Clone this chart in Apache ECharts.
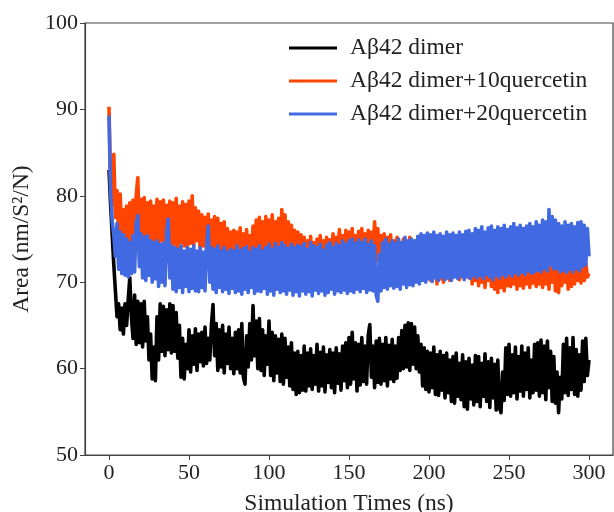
<!DOCTYPE html>
<html>
<head>
<meta charset="utf-8">
<script src="https://cdn.jsdelivr.net/npm/echarts@6/dist/echarts.min.js"></script>
<style>
  html, body { margin: 0; padding: 0; background: #fff; }
  #chart { width: 614px; height: 512px; }
</style>
</head>
<body>
<div id="chart"></div>
<script>
// series names
var names = ['A\u03b242 dimer', 'A\u03b242 dimer+10quercetin', 'A\u03b242 dimer+20quercetin'];
var xTicks = [0, 50, 100, 150, 200, 250, 300];
var yTicks = [50, 60, 70, 80, 90, 100];

// area per residue, one value per ns (t = 0..300)
var dimer = [
  83, 79, 75.5, 72, 69, 66, 67.5, 64.5, 67, 64,
  67.5, 65, 68, 70.5, 66, 63.5, 68.5, 62.8, 67.8, 63,
  67.5, 62.5, 67.8, 63.2, 66, 61, 64, 58.8, 62.5, 58.6,
  66, 61, 67.5, 62, 67.2, 61.5, 66.8, 62.2, 67.5, 61.8,
  67.3, 62, 66.5, 61.2, 65, 59, 63.5, 58.8, 62.8, 60,
  64.5, 59.6, 63.8, 60.5, 64.6, 59.8, 64, 60.8, 64.2, 60.3,
  64.8, 60.6, 63.5, 61, 65, 67.4, 61.5, 65.2, 59.8, 64.5,
  60.2, 65, 59.5, 64, 60.6, 64.8, 60, 63.5, 59.4, 64.2,
  60, 64.5, 59.5, 65.2, 59, 58.2, 63.8, 60.2, 65.2, 61,
  67.3, 61.5, 65.5, 60, 65.8, 59.8, 64.5, 59.2, 63.8, 60.5,
  65.5, 59.2, 64.2, 58.6, 63.8, 59.5, 63.4, 58.5, 64, 58.2,
  63.5, 59, 62.5, 58, 63, 57.6, 61.8, 57, 62, 57.2,
  61.5, 57.5, 62.6, 57.4, 61.8, 58, 62.3, 57.6, 61.5, 58.2,
  62.8, 57.4, 61.9, 58, 62.5, 57.3, 61.6, 58.4, 62.2, 57.8,
  61.8, 57.2, 62.4, 58.3, 61.7, 57.5, 62.6, 58.6, 63, 57.8,
  63.6, 58.2, 64.2, 58.8, 63, 57.4, 62.8, 58.1, 63.6, 58.5,
  62.6, 58.2, 63.8, 65.1, 59, 62.6, 57.8, 63.2, 58.4, 63.5,
  58.2, 62.8, 58.6, 63.6, 58, 62.7, 58.8, 63.4, 58.5, 62.6,
  58.9, 63.6, 59.8, 64.4, 60, 65, 60.2, 65.3, 59.8, 65.2,
  60.5, 64.8, 60, 63.8, 59.6, 62.8, 58, 62.4, 57.6, 62,
  57.3, 61.8, 57.8, 62.5, 57, 61.6, 56.9, 62, 57.5, 61.5,
  56.6, 61.8, 57.2, 61, 56.2, 61.4, 56, 61.8, 56.8, 60.6,
  56.4, 61.6, 55.6, 60.8, 55.3, 61.2, 56.5, 60.4, 55.8, 61.5,
  56.2, 61.4, 55.6, 60.6, 56.8, 61.7, 56.2, 60.8, 55.5, 61.2,
  56.6, 60.5, 55.2, 61, 55.5, 54.9, 59.6, 56.3, 62.4, 57,
  62.8, 56.8, 61.6, 57.2, 62.5, 56.5, 61.4, 57.4, 62.6, 56.8,
  61.8, 57.6, 62.4, 56.6, 61, 57.2, 62.8, 57.5, 63, 56.8,
  63.3, 57.2, 62.6, 56.4, 63.2, 57.8, 62, 56.2, 61.4, 56,
  59.6, 54.9, 59, 56.5, 62.8, 57.2, 63.5, 56.9, 62.4, 57.6,
  63.6, 57, 62.2, 56.8, 61.6, 57.5, 63.2, 58.5, 63.5, 59.2,
  61
];

var dimerQ10 = [
  90.3, 81, 79, 84.8, 77.5, 80.6, 75.8, 80.2, 75.2, 78.4,
  74.2, 78.8, 73.8, 79.2, 74.5, 79.5, 75, 80, 82.1, 75.5,
  79.6, 74.2, 79.8, 75, 79.2, 73.8, 79.4, 74.6, 78.8, 74,
  79.6, 73.8, 79.3, 74.8, 79.5, 73.6, 78.9, 74.2, 79.4, 73.8,
  79.2, 74.4, 79.7, 73.9, 78.8, 74.6, 79.3, 74.2, 79, 74,
  79.4, 74.5, 80, 74.3, 78.6, 74.8, 78.2, 73.6, 77.8, 74.2,
  77.5, 73.4, 77.9, 74, 77.2, 73.5, 77.6, 73.2, 77.4, 73.6,
  76.8, 73.2, 77, 73.5, 76.2, 72.8, 75.8, 72.6, 76, 72.4,
  75.8, 73, 76.3, 72.5, 75.6, 72.8, 76.1, 72.3, 75.4, 72.6,
  76.5, 72.5, 77.2, 73, 77.5, 72.6, 77, 73.2, 77.6, 72.8,
  77.2, 73.4, 77.8, 72.7, 77, 73.6, 77.4, 73, 78.4, 73.5,
  77.8, 73.2, 77, 72.8, 76.6, 73.4, 76, 72.5, 75.8, 73,
  75.5, 72.4, 75.2, 73, 74.8, 72.6, 75.3, 72.4, 74.6, 72.8,
  75, 72.3, 75.4, 72.7, 74.8, 72.4, 75.2, 72.8, 74.9, 72.4,
  75.6, 72.6, 75.2, 73, 76.1, 72.5, 75.4, 72.2, 76, 72.6,
  75.8, 71.9, 76.2, 72.4, 75.4, 72.2, 75.9, 72.6, 76.2, 72,
  75.6, 72.3, 76, 72.6, 75.8, 73, 77, 72.5, 76.2, 72.4,
  75.4, 72.2, 75.6, 71.9, 75.2, 72.4, 75.5, 72, 74.8, 72.3,
  75.2, 71.8, 74.6, 72.2, 75, 71.6, 74.4, 72, 75.2, 71.7,
  74.5, 71.5, 74.8, 71, 74.2, 70.6, 73.8, 70.2, 74.5, 70.5,
  73.8, 70.2, 74.4, 70.6, 73.6, 69.8, 74.2, 70.4, 73.8, 70,
  74, 70.5, 74.6, 70.2, 73.9, 70.6, 74.4, 70.8, 74.8, 70.3,
  74.5, 70.6, 75, 71, 74.3, 70.5, 73.8, 69.8, 73.4, 70.2,
  73.5, 69.6, 73, 70, 73.6, 69.4, 72.8, 70.2, 73.3, 69.5,
  72.6, 69.2, 73.2, 68.8, 72.5, 69.4, 72.8, 69, 72.2, 69.6,
  72.6, 69.5, 72.2, 69.8, 72.8, 69.2, 72, 69.6, 72.4, 69.3,
  72.1, 69.8, 72.6, 69.4, 72.3, 69.9, 72.8, 69.5, 72.4, 69.8,
  72.6, 69.4, 73, 69.8, 73.4, 69.2, 73.8, 70, 73, 69,
  73.2, 68.8, 72.6, 69.6, 72.8, 70, 72.2, 69.2, 72.6, 69.5,
  72.4, 69.8, 72.8, 70.2, 72.5, 69.9, 72.6, 70.2, 72.2, 70.6,
  71
];

var dimerQ20 = [
  89.3, 80.5, 77, 75.5, 73, 76.8, 71.5, 75.8, 71, 75.5,
  70.8, 75, 70.6, 74.6, 71, 75.4, 71.2, 76.8, 77.7, 71.8,
  75.6, 70.5, 75.2, 70.2, 75.4, 70.8, 74.8, 70, 74.6, 70.4,
  74.8, 69.5, 74.4, 70, 74.5, 69.6, 75.8, 77.3, 70.5, 74.2,
  69.2, 74, 68.9, 73.8, 69.4, 74.2, 68.8, 73.6, 69.5, 74,
  68.9, 73.8, 69.3, 74.2, 69, 73.6, 68.9, 74, 69.4, 73.5,
  69, 74.2, 76.5, 70, 74, 69.2, 73.8, 68.8, 74.2, 69.4,
  73.6, 68.9, 74, 69.2, 73.5, 68.7, 73.8, 69.3, 73.6, 68.8,
  74.2, 69, 73.7, 68.6, 73.9, 69.2, 74.1, 68.8, 73.5, 69.4,
  74, 68.7, 73.8, 69, 74.2, 68.9, 73.6, 69.3, 74, 68.6,
  74.4, 69, 73.8, 68.5, 74.5, 69.2, 74, 68.8, 74.6, 69,
  74.2, 68.6, 73.9, 69.1, 74.4, 68.5, 74, 68.9, 74.3, 68.4,
  74.1, 69, 74.5, 68.6, 73.8, 68.9, 74.6, 68.4, 74.2, 69.1,
  74, 68.7, 74.4, 69, 73.7, 68.5, 74.3, 68.8, 74.6, 69.2,
  74, 68.6, 74.5, 69, 74.2, 68.8, 74.8, 69.1, 74.4, 68.7,
  74.8, 69, 75, 68.8, 74.5, 69.2, 74.9, 68.9, 74.6, 69.3,
  75, 68.8, 74.4, 69.1, 74.8, 69, 74.2, 68.5, 67.8, 73.2,
  69, 74.6, 69.4, 75, 69.2, 74.4, 69.6, 74.8, 69.3, 74.5,
  69.5, 75, 69.2, 74.6, 69.8, 75.2, 69.4, 74.8, 69.7, 75,
  69.6, 74.8, 70, 75.3, 69.8, 75.6, 70.2, 75.4, 70, 75.7,
  70.4, 75.5, 70.1, 75.8, 70.5, 75.4, 70.2, 75.6, 70.6, 75.3,
  70.3, 75.8, 70.5, 75.5, 70.2, 75.7, 70.6, 75.4, 70.4, 75.8,
  70.7, 75.5, 70.3, 75.9, 70.6, 76, 70.4, 75.6, 70.8, 76.2,
  70.5, 76, 70.8, 76.4, 70.4, 75.8, 70.9, 76.3, 70.6, 76.5,
  70.3, 76, 70.8, 76.4, 70.5, 76.2, 70.9, 76.6, 70.6, 76.1,
  71, 76.4, 70.7, 76.8, 71.1, 76.3, 70.8, 76.6, 71.2, 76.2,
  70.9, 76.5, 71.3, 76.8, 71, 76.4, 71.2, 77, 71.4, 76.6,
  71.2, 77.2, 71.6, 77, 71.3, 78.4, 72, 77.6, 71.5, 77.2,
  71.6, 76.8, 71.2, 76.5, 71.4, 77, 71.1, 76.6, 71.5, 76.8,
  71.2, 76.4, 71.6, 76.9, 71.3, 77, 71.8, 76.6, 72, 76.2,
  73
];

var colors = ['#000000', '#ff4500', '#4169e1'];
var font = 'Liberation Serif';

function toPairs(values){
    // one sample per ns
    return values.map(function (v, i){ return [i, v]; });
}

function get_option(){
    var lists = [dimer, dimerQ10, dimerQ20];
    var series = lists.map(function (vals, k){
        return {
            name: names[k],
            type: 'line',
            data: toPairs(vals),
            symbol: 'none',
            lineStyle: { color: colors[k], width: 3.6, join: 'round' },
            itemStyle: { color: colors[k] },
            animation: false
        };
    });
    var option = {
        animation: false,
        color: colors,
        textStyle: { fontFamily: font },
        grid: {
            left: 85,
            right: 1,
            top: 23,
            bottom: 57,
            outerBoundsMode: 'none',
            show: true,
            borderColor: '#444',
            borderWidth: 1.2
        },
        legend: {
            orient: 'vertical',
            left: 284,
            top: 31,
            icon: 'rect',
            itemWidth: 48,
            itemHeight: 3,
            itemGap: 9,
            data: names,
            textStyle: {
                fontFamily: font,
                fontSize: 23.5,
                color: '#222',
                lineHeight: 24,
                padding: [0, 0, 0, 8]
            }
        },
        xAxis: {
            type: 'value',
            min: -15,
            max: 315,
            name: 'Simulation Times (ns)',
            nameLocation: 'middle',
            nameGap: 37,
            nameTextStyle: { fontFamily: font, fontSize: 23.5, color: '#222' },
            axisLine: { onZero: false, lineStyle: { color: '#444', width: 1.2 } },
            axisTick: { show: true, length: 5, customValues: xTicks, lineStyle: { color: '#444' } },
            axisLabel: { customValues: xTicks, fontFamily: font, fontSize: 22, color: '#222', margin: 7 },
            splitLine: { show: false }
        },
        yAxis: {
            type: 'value',
            min: 50,
            max: 100,
            interval: 10,
            name: 'Area (nm/S\u00b2/N)',
            nameLocation: 'middle',
            nameGap: 49,
            nameTextStyle: { fontFamily: font, fontSize: 23.5, color: '#222' },
            axisLine: { show: true, onZero: false, lineStyle: { color: '#444', width: 1.2 } },
            axisTick: { show: true, length: 5, lineStyle: { color: '#444' } },
            axisLabel: { fontFamily: font, fontSize: 22, color: '#222', margin: 7 },
            splitLine: { show: false }
        },
        series: series
    };
    return option;
}

var myChart = echarts.init(document.getElementById('chart'), null, { renderer: 'canvas' });
myChart.setOption(get_option());
</script>
</body>
</html>
